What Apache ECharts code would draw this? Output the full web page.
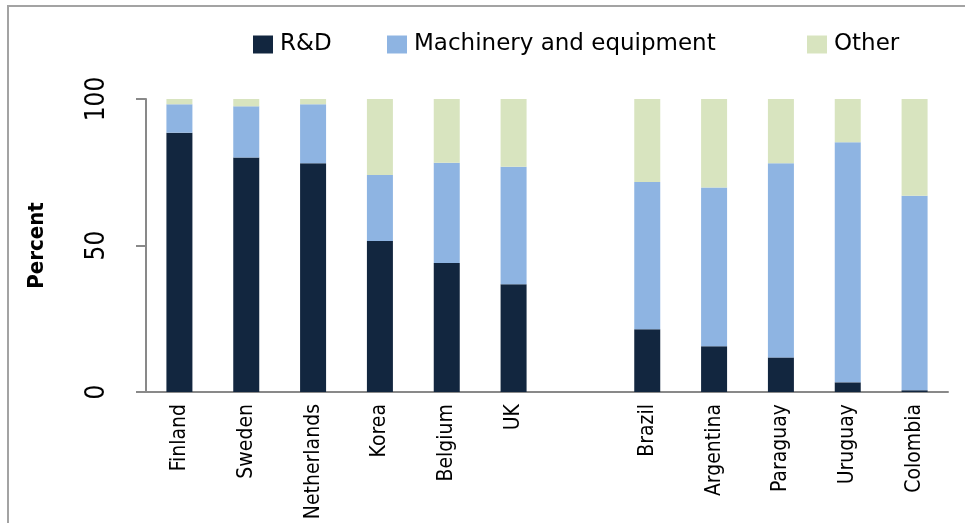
<!DOCTYPE html>
<html>
<head>
<meta charset="utf-8">
<script src="https://cdn.jsdelivr.net/npm/echarts@6/dist/echarts.min.js"></script>
<style>
  html, body { margin: 0; padding: 0; background: #fff; }
  #wrap { position: relative; width: 965px; height: 523px; overflow: hidden; }
  #frame { position: absolute; left: 7px; top: 5px; width: 1000px; height: 600px; border: 2px solid #a3a3a3; }
  #chart { position: absolute; left: 0; top: 0; width: 965px; height: 523px; }
</style>
</head>
<body>
<div id="wrap">
  <div id="frame"></div>
  <div id="chart"></div>
</div>
<script>
// countries, with an empty slot between the two groups
const countries = ['Finland', 'Sweden', 'Netherlands', 'Korea', 'Belgium', 'UK', '',
  'Brazil', 'Argentina', 'Paraguay', 'Uruguay', 'Colombia']
const rdShare = [88.5, 80.0, 78.1, 51.5, 44.0, 36.8, '-', 21.4, 15.6, 11.8, 3.3, 0.6]
const machineryShare = [9.7, 17.5, 20.1, 22.6, 34.2, 40.1, '-', 50.3, 54.2, 66.3, 81.9, 66.4]
const otherShare = [1.8, 2.5, 1.8, 25.9, 21.8, 23.1, '-', 28.3, 30.2, 21.9, 14.8, 33.0]
const yTicks = [0, 50, 100]

const colors = {
  rd: '#12263f',
  machinery: '#8eb4e2',
  other: '#d8e4bf'
}
const axisGray = '#898989'
const labelFont = '"DejaVu Sans Condensed", "Liberation Sans", sans-serif'

const chart = echarts.init(document.getElementById('chart'))

const legendBase = {
  top: 28,
  itemWidth: 20,
  itemHeight: 18,
  itemGap: 0,
  icon: 'rect',
  textStyle: { fontFamily: 'DejaVu Sans', fontSize: 23, color: '#000', padding: [0, 0, 0, 2] }
}

const option = {
  animation: false,
  backgroundColor: 'transparent',
  legend: [
    Object.assign({}, legendBase, { left: 248, data: ['R&D'] }),
    Object.assign({}, legendBase, { left: 382, data: ['Machinery and equipment'] }),
    Object.assign({}, legendBase, { left: 802, data: ['Other'] })
  ],
  grid: { left: 146, right: 17, top: 99, bottom: 131, outerBoundsMode: 'none', containLabel: false },
  xAxis: {
    type: 'category',
    data: countries,
    axisLine: { lineStyle: { color: axisGray, width: 2 } },
    axisTick: { length: 9, alignWithLabel: false, lineStyle: { color: axisGray, width: 2 } },
    axisLabel: {
      rotate: 90,
      margin: 12,
      interval: 0,
      fontFamily: labelFont,
      fontSize: 21,
      color: '#000'
    }
  },
  yAxis: {
    type: 'value',
    min: yTicks[0],
    max: yTicks[yTicks.length - 1],
    interval: 50,
    name: 'Percent',
    nameLocation: 'middle',
    nameGap: 98,
    nameRotate: 90,
    nameTextStyle: { fontFamily: labelFont, fontSize: 22, fontWeight: 'bold', color: '#000' },
    splitLine: { show: false },
    axisLine: { show: true, lineStyle: { color: axisGray, width: 2 } },
    axisTick: { show: true, length: 10, lineStyle: { color: axisGray, width: 2 } },
    axisLabel: {
      rotate: 90,
      margin: 36,
      fontFamily: labelFont,
      fontSize: 26,
      color: '#000'
    }
  },
  series: [
    { name: 'R&D', type: 'bar', stack: 'total', barWidth: 26, data: rdShare, itemStyle: { color: colors.rd } },
    { name: 'Machinery and equipment', type: 'bar', stack: 'total', barWidth: 26, data: machineryShare, itemStyle: { color: colors.machinery } },
    { name: 'Other', type: 'bar', stack: 'total', barWidth: 26, data: otherShare, itemStyle: { color: colors.other } }
  ]
}

chart.setOption(option)
</script>
</body>
</html>
